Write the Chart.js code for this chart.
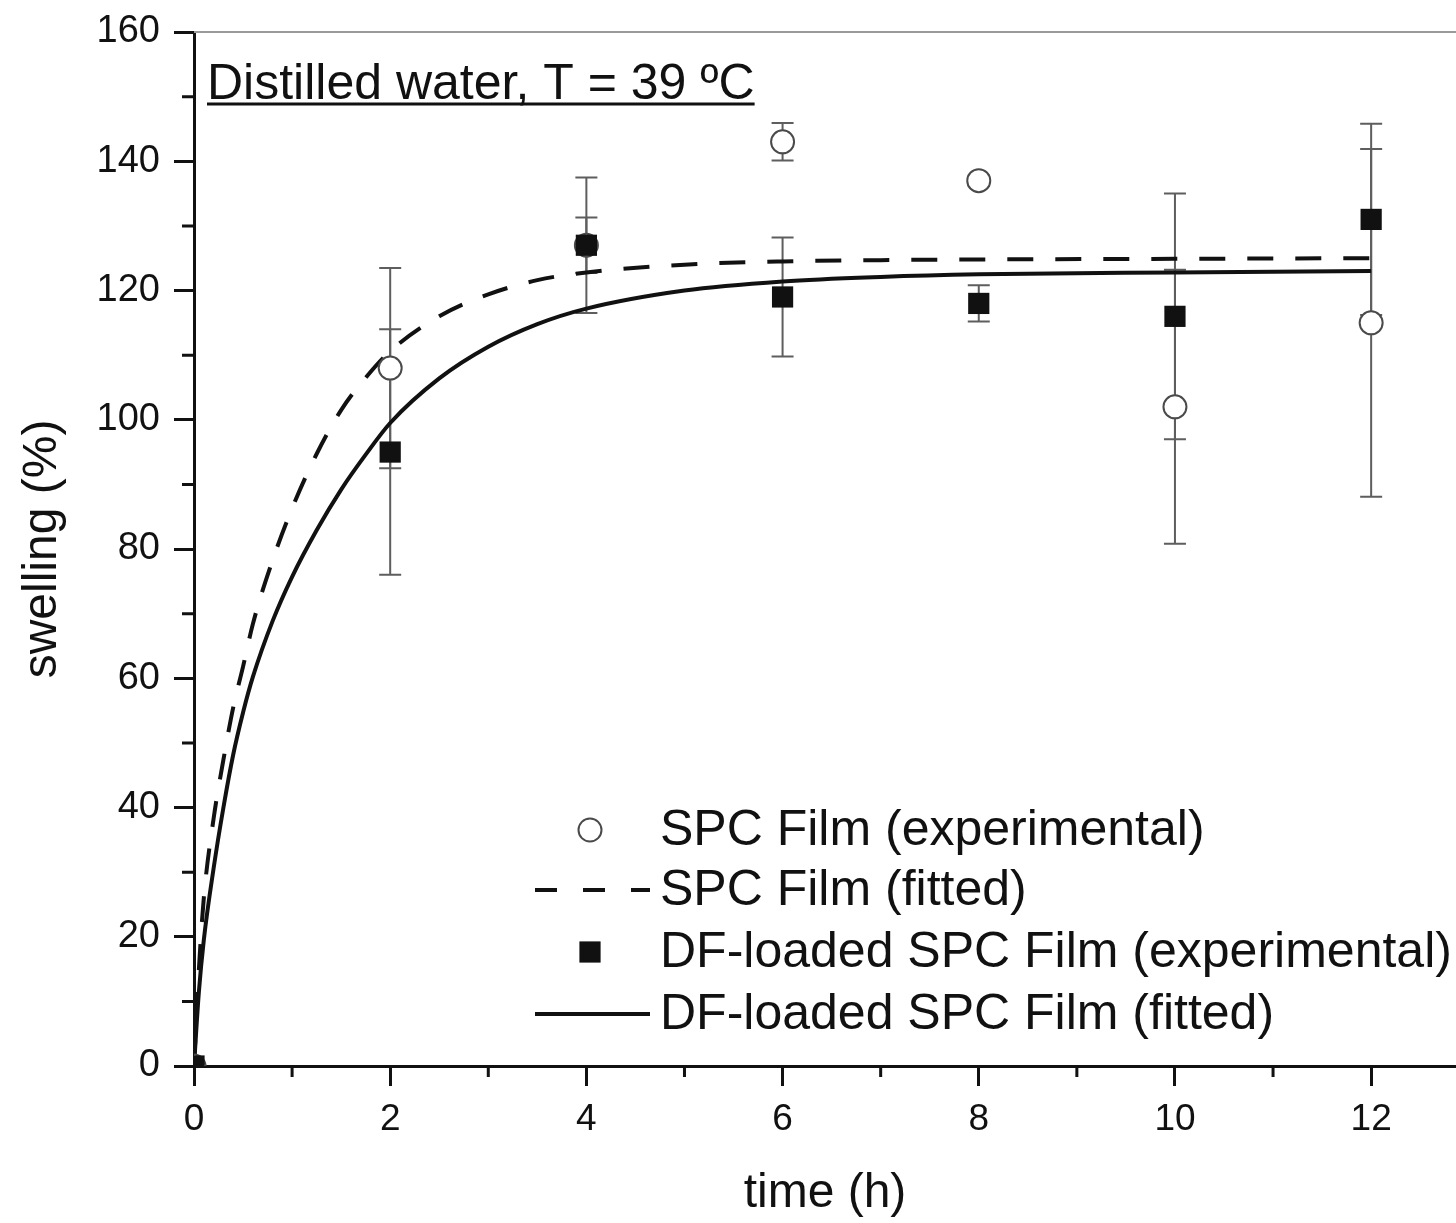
<!DOCTYPE html>
<html>
<head>
<meta charset="utf-8">
<script src="https://cdn.jsdelivr.net/npm/chart.js@4.4.1/dist/chart.umd.min.js"></script>
<style>
  html, body { margin: 0; padding: 0; background: #fff; overflow: hidden; }
  canvas { display: block; }
</style>
</head>
<body>
<canvas id="myChart" width="1456" height="1223"></canvas>
<script>
// measured points (h, %)
const times = [0, 2, 4, 6, 8, 10, 12];
const spcExp = [0, 108, 127, 143, 137, 102, 115];
const spcErr = [0, 15.5, 4.3, 2.9, 0.8, 21.2, 26.9];
const dfExp = [0, 95, 127, 119, 118, 116, 131];
const dfErr = [0, 19, 10.5, 9.2, 2.8, 19, 14.8];

// fitted curves
const fitTimes = [0, 0.05, 0.1, 0.2, 0.3, 0.4, 0.5, 0.6, 0.8, 1, 1.25, 1.5, 1.75, 2, 2.5, 3, 3.5, 4, 5, 6, 7, 8, 10, 12];
const spcFit = [0, 15, 26, 38.3, 47.4, 55.5, 61.8, 68.4, 78.2, 86.3, 94.7, 101.5, 106.5, 110.6, 116, 119.4, 121.6, 122.8, 124, 124.5, 124.7, 124.8, 124.9, 125];
const dfFit = [0, 11.5, 19.5, 30.6, 40, 48.2, 54.7, 60.2, 68.8, 75.7, 82.9, 89.2, 94.6, 99.5, 106.4, 111.3, 114.8, 117.2, 120, 121.4, 122.1, 122.5, 122.8, 123];

const xTicks = [0, 1, 2, 3, 4, 5, 6, 7, 8, 9, 10, 11, 12];
const yTicks = [0, 10, 20, 30, 40, 50, 60, 70, 80, 90, 100, 110, 120, 130, 140, 150, 160];

const FONT = "'Liberation Sans', Arial, Helvetica, sans-serif";
const INK = "#111";

const toPoints = (xs, ys) => xs.map((x, i) => ({ x: x, y: ys[i] }));

const errorBars = {
  id: "errorBars",
  beforeDatasetsDraw(chart) {
    const { ctx, scales } = chart;
    ctx.save();
    ctx.strokeStyle = "#5e5e5e";
    ctx.lineWidth = 2;
    chart.data.datasets.forEach((ds) => {
      if (!ds.errors) return;
      ds.data.forEach((p, i) => {
        const e = ds.errors[i];
        if (!e) return;
        const px = scales.x.getPixelForValue(p.x);
        const top = scales.y.getPixelForValue(p.y + e);
        const bot = scales.y.getPixelForValue(p.y - e);
        ctx.beginPath();
        ctx.moveTo(px, top);
        ctx.lineTo(px, bot);
        ctx.moveTo(px - 11, top);
        ctx.lineTo(px + 11, top);
        ctx.moveTo(px - 11, bot);
        ctx.lineTo(px + 11, bot);
        ctx.stroke();
      });
    });
    ctx.restore();
  },
};

const frame = {
  id: "frame",
  afterDraw(chart) {
    const { ctx, chartArea, scales } = chart;
    ctx.save();
    // top border
    ctx.strokeStyle = "#9a9a9a";
    ctx.lineWidth = 2;
    ctx.beginPath();
    ctx.moveTo(chartArea.left, chartArea.top);
    ctx.lineTo(chart.width, chartArea.top);
    ctx.stroke();

    // minor ticks
    ctx.strokeStyle = INK;
    ctx.lineWidth = 3;
    ctx.beginPath();
    scales.x.ticks.forEach((t) => {
      if (t.value % 2 === 0) return;
      const px = scales.x.getPixelForValue(t.value);
      ctx.moveTo(px, chartArea.bottom);
      ctx.lineTo(px, chartArea.bottom + 11);
    });
    scales.y.ticks.forEach((t) => {
      if (t.value % 20 === 0) return;
      const py = scales.y.getPixelForValue(t.value);
      ctx.moveTo(chartArea.left - 12, py);
      ctx.lineTo(chartArea.left, py);
    });
    ctx.stroke();

    // annotation
    ctx.fillStyle = INK;
    ctx.font = "50px " + FONT;
    ctx.textBaseline = "alphabetic";
    const note = "Distilled water, T = 39 ºC";
    ctx.fillText(note, 207, 99);
    const w = ctx.measureText(note).width;
    ctx.lineWidth = 3;
    ctx.beginPath();
    ctx.moveTo(207, 104);
    ctx.lineTo(207 + w, 104);
    ctx.stroke();

    // legend
    const rows = [830, 890, 952, 1014];
    ctx.font = "50px " + FONT;
    ctx.textBaseline = "middle";
    chart.data.datasets.forEach((ds, i) => {
      const y = rows[i];
      ctx.fillStyle = INK;
      ctx.fillText(ds.label, 660, y + 1);
      ctx.save();
      if (ds.showLine) {
        ctx.strokeStyle = ds.borderColor;
        ctx.lineWidth = ds.borderWidth;
        ctx.setLineDash(ds.borderDash ? [22, 26] : []);
        ctx.beginPath();
        ctx.moveTo(535, y);
        ctx.lineTo(650, y);
        ctx.stroke();
      } else {
        ctx.fillStyle = ds.pointBackgroundColor;
        ctx.strokeStyle = ds.pointBorderColor;
        ctx.lineWidth = ds.pointBorderWidth;
        ctx.beginPath();
        if (ds.pointStyle === "circle") {
          ctx.arc(590, y, ds.pointRadius, 0, Math.PI * 2);
        } else {
          const s = ds.pointRadius * Math.SQRT1_2;
          ctx.rect(590 - s, y - s, 2 * s, 2 * s);
        }
        ctx.fill();
        if (ds.pointBorderWidth) ctx.stroke();
      }
      ctx.restore();
    });
    ctx.restore();
  },
};

const ctx = document.getElementById("myChart").getContext("2d");

new Chart(ctx, {
  type: "scatter",
  data: {
    datasets: [
      {
        label: "SPC Film (experimental)",
        data: toPoints(times, spcExp),
        errors: spcErr,
        pointStyle: "circle",
        pointRadius: 11.5,
        pointBorderWidth: 2,
        pointBorderColor: "#4a4a4a",
        pointBackgroundColor: "#fff",
        showLine: false,
        order: 1,
      },
      {
        label: "SPC Film (fitted)",
        type: "line",
        data: toPoints(fitTimes, spcFit),
        showLine: true,
        borderColor: INK,
        borderWidth: 4,
        borderDash: [26, 22],
        pointRadius: 0,
        cubicInterpolationMode: "monotone",
        fill: false,
        order: 2,
      },
      {
        label: "DF-loaded SPC Film (experimental)",
        data: toPoints(times, dfExp),
        errors: dfErr,
        pointStyle: "rect",
        pointRadius: 15,
        pointBorderWidth: 0,
        pointBorderColor: INK,
        pointBackgroundColor: INK,
        showLine: false,
        order: 0,
      },
      {
        label: "DF-loaded SPC Film (fitted)",
        type: "line",
        data: toPoints(fitTimes, dfFit),
        showLine: true,
        borderColor: INK,
        borderWidth: 4,
        pointRadius: 0,
        cubicInterpolationMode: "monotone",
        fill: false,
        order: 3,
      },
    ],
  },
  options: {
    responsive: false,
    animation: false,
    events: [],
    layout: { autoPadding: false, padding: { top: 32, right: 0, left: 0, bottom: 0 } },
    plugins: {
      legend: { display: false },
      tooltip: { enabled: false },
    },
    scales: {
      x: {
        type: "linear",
        min: 0,
        max: 12.865,
        afterBuildTicks: (scale) => {
          scale.ticks = xTicks.map((v) => ({ value: v }));
        },
        afterFit: (scale) => {
          scale.height = 157;
          scale.paddingLeft = 0;
          scale.paddingRight = 0;
        },
        ticks: {
          autoSkip: false,
          maxRotation: 0,
          padding: 12,
          color: INK,
          font: { family: FONT, size: 37 },
          callback: (v) => (v % 2 === 0 ? String(v) : ""),
        },
        grid: {
          drawOnChartArea: false,
          drawTicks: true,
          tickLength: 20,
          tickWidth: 3,
          tickColor: (c) => (c.tick && c.tick.value % 2 === 0 ? INK : "rgba(0,0,0,0)"),
        },
        border: { color: INK, width: 3 },
        title: {
          display: true,
          text: "time (h)",
          color: INK,
          font: { family: FONT, size: 48 },
          padding: { top: 0, bottom: 0 },
        },
      },
      y: {
        type: "linear",
        min: 0,
        max: 160,
        afterBuildTicks: (scale) => {
          scale.ticks = yTicks.map((v) => ({ value: v }));
        },
        afterFit: (scale) => {
          scale.width = 194;
          scale.paddingTop = 0;
          scale.paddingBottom = 0;
        },
        ticks: {
          autoSkip: false,
          padding: 14,
          color: INK,
          font: { family: FONT, size: 38 },
          callback: (v) => (v % 20 === 0 ? String(v) : ""),
        },
        grid: {
          drawOnChartArea: false,
          drawTicks: true,
          tickLength: 20,
          tickWidth: 3,
          tickColor: (c) => (c.tick && c.tick.value % 20 === 0 ? INK : "rgba(0,0,0,0)"),
        },
        border: { color: INK, width: 3 },
        title: {
          display: true,
          text: "swelling (%)",
          color: INK,
          font: { family: FONT, size: 48 },
          padding: { top: 14, bottom: 0 },
        },
      },
    },
  },
  plugins: [errorBars, frame],
});
</script>
</body>
</html>
